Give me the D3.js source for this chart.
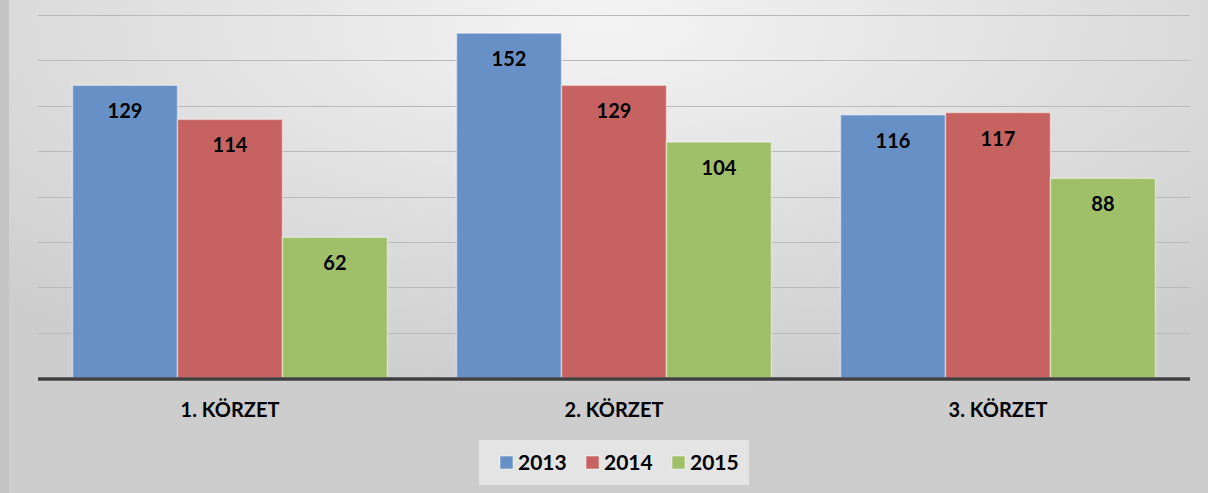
<!DOCTYPE html>
<html>
<head>
<meta charset="utf-8">
<script src="https://cdn.jsdelivr.net/npm/d3@7"></script>
<style>
  body { margin: 0; padding: 0; }
  svg { display: block; }
</style>
</head>
<body>
<div id="chart"></div>
<script>
var categories = ['1. KÖRZET', '2. KÖRZET', '3. KÖRZET'];
var seriesNames = ['2013', '2014', '2015'];
var values2013 = [129, 152, 116];
var values2014 = [114, 129, 117];
var values2015 = [62, 104, 88];
var gridTicks = [0, 20, 40, 60, 80, 100, 120, 140, 160];

var width = 1208, height = 493;
var margin = {top: 15, right: 18, bottom: 115, left: 38};
var barColors = ['#6690c6', '#c6625f', '#a0bf69'];
var fontFamily = 'Lato, "Open Sans", sans-serif';

var allSeries = [values2013, values2014, values2015];

var svg = d3.select('#chart').append('svg')
  .attr('width', width)
  .attr('height', height);

var defs = svg.append('defs');
var bg = defs.append('radialGradient')
  .attr('id', 'bg')
  .attr('cx', '50%').attr('cy', '5%')
  .attr('r', '75%');
bg.append('stop').attr('offset', '0%').attr('stop-color', '#f4f4f4');
bg.append('stop').attr('offset', '100%').attr('stop-color', '#cdcdcd');

svg.append('rect')
  .attr('width', width)
  .attr('height', height)
  .attr('fill', 'url(#bg)');

// darker strip on left edge
svg.append('rect')
  .attr('x', 0).attr('y', 0)
  .attr('width', 9).attr('height', height)
  .attr('fill', '#c4c4c4');

var x0 = d3.scaleBand()
  .domain(categories)
  .range([margin.left, width - margin.right])
  .paddingInner(0.18)
  .paddingOuter(0.09);

var x1 = d3.scaleBand()
  .domain(seriesNames)
  .range([0, x0.bandwidth()]);

var y = d3.scaleLinear()
  .domain([0, 160])
  .range([height - margin.bottom, margin.top]);

// gridlines
svg.append('g')
  .selectAll('line')
  .data(gridTicks.slice(1))
  .enter()
  .append('line')
  .attr('x1', margin.left)
  .attr('x2', width - margin.right)
  .attr('y1', function (d) { return Math.round(y(d)) + 0.5; })
  .attr('y2', function (d) { return Math.round(y(d)) + 0.5; })
  .attr('stroke', '#bababa')
  .attr('stroke-width', 1.2);

function barData(d, i) {
  return seriesNames.map(function (s, j) {
    return {series: s, value: allSeries[j][i], color: barColors[j]};
  });
}

var groups = svg.append('g')
  .selectAll('g')
  .data(categories)
  .enter()
  .append('g')
  .attr('transform', function (d) { return 'translate(' + x0(d) + ',0)'; });

groups.selectAll('rect')
  .data(barData)
  .enter()
  .append('rect')
  .attr('x', function (d) { return x1(d.series); })
  .attr('y', function (d) { return y(d.value); })
  .attr('width', x1.bandwidth())
  .attr('height', function (d) { return y(0) - y(d.value); })
  .attr('fill', function (d) { return d.color; })
  .attr('stroke', 'rgba(255,255,255,0.45)')
  .attr('stroke-width', 1.5);

groups.selectAll('text')
  .data(barData)
  .enter()
  .append('text')
  .attr('x', function (d) { return x1(d.series) + x1.bandwidth() / 2; })
  .attr('y', function (d) { return y(d.value) + 33; })
  .attr('text-anchor', 'middle')
  .attr('font-family', fontFamily)
  .attr('font-weight', 'bold')
  .attr('font-size', '20px')
  .attr('fill', '#000')
  .text(function (d) { return d.value; });

// baseline
svg.append('line')
  .attr('x1', margin.left)
  .attr('x2', width - margin.right)
  .attr('y1', y(0) + 1)
  .attr('y2', y(0) + 1)
  .attr('stroke', '#404040')
  .attr('stroke-width', 3.5);

// category labels
svg.append('g')
  .selectAll('text')
  .data(categories)
  .enter()
  .append('text')
  .attr('x', function (d) { return x0(d) + x0.bandwidth() / 2; })
  .attr('y', 417)
  .attr('text-anchor', 'middle')
  .attr('font-family', fontFamily)
  .attr('font-weight', 'bold')
  .attr('font-size', '20px')
  .attr('fill', '#000')
  .text(function (d) { return d; });

// legend
svg.append('rect')
  .attr('x', 479).attr('y', 440)
  .attr('width', 270).attr('height', 45)
  .attr('fill', '#e4e4e4');

var legendX = [500, 586, 672];
var legend = svg.append('g')
  .selectAll('g')
  .data(seriesNames)
  .enter()
  .append('g')
  .attr('transform', function (d, i) { return 'translate(' + legendX[i] + ',456)'; });

legend.append('rect')
  .attr('width', 13).attr('height', 13)
  .attr('fill', function (d, i) { return barColors[i]; })
  .attr('stroke', 'rgba(255,255,255,0.5)');

legend.append('text')
  .attr('x', 18)
  .attr('y', 14)
  .attr('font-family', fontFamily)
  .attr('font-weight', 'bold')
  .attr('font-size', '21px')
  .attr('fill', '#000')
  .text(function (d) { return d; });
</script>
</body>
</html>
